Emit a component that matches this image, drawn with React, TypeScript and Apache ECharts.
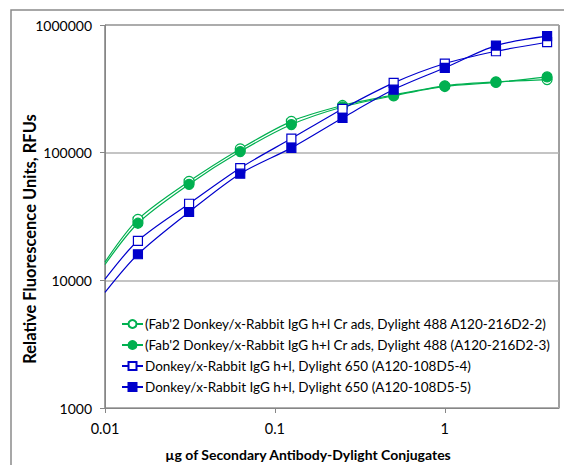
import React, { useEffect, useRef } from "react";
import * as echarts from "echarts";

// µg of conjugate (first value is where the fitted curve starts, no marker)
const xValues = [0.01, 0.015625, 0.03125, 0.0625, 0.125, 0.25, 0.5, 1, 2, 4];
const greenOpen = [13900, 30000, 59600, 107000, 176000, 234000, 283000, 334000, 358000, 374000];
const greenFilled = [13300, 28000, 56500, 102000, 166000, 228000, 279000, 330000, 355000, 392000];
const blueOpen = [10200, 20400, 39800, 75800, 129000, 220000, 352000, 499000, 623000, 733000];
const blueFilled = [8050, 16000, 34300, 68400, 109000, 187000, 312000, 462000, 690000, 818000];

const seriesNames = [
  "(Fab'2 Donkey/x-Rabbit IgG h+l Cr ads, Dylight 488 A120-216D2-2)",
  "(Fab'2 Donkey/x-Rabbit IgG h+l Cr ads, Dylight 488 (A120-216D2-3)",
  "Donkey/x-Rabbit IgG h+l, Dylight 650 (A120-108D5-4)",
  "Donkey/x-Rabbit IgG h+l, Dylight 650 (A120-108D5-5)",
];
const yTitle = "Relative Fluorescence Units, RFUs";
const xTitle = "µg of Secondary Antibody-Dylight Conjugates";

const GREEN = "#00B050";
const BLUE = "#0000CC";
const FONT = "Lato, 'Open Sans', sans-serif";

function toData(vals: number[]) {
  return xValues.map((x, i) =>
    i === 0 ? { value: [x, vals[i]], symbol: "none" } : [x, vals[i]]
  );
}

export default function App() {
  const ref = useRef<HTMLDivElement>(null);
  useEffect(() => {
    document.body.style.margin = "0";
    const chart = echarts.init(ref.current!, null, { renderer: "svg" });
    const mk = (
      name: string,
      vals: number[],
      color: string,
      symbol: string,
      size: number,
      filled: boolean
    ) => ({
      name,
      type: "line",
      data: toData(vals),
      smooth: 0.3,
      symbol,
      symbolSize: size,
      showAllSymbol: true,
      lineStyle: { color, width: 1.2 },
      itemStyle: {
        color: filled ? color : "#ffffff",
        borderColor: color,
        borderWidth: 1.2,
      },
      z: 3,
    });
    chart.setOption({
      animation: false,
      backgroundColor: "#ffffff",
      textStyle: { fontFamily: FONT },
      grid: {
        left: 105,
        right: 5,
        top: 25,
        bottom: 57,
        show: true,
        borderColor: "#404040",
        borderWidth: 1,
      },
      graphic: [
        {
          type: "rect",
          shape: { x: 11, y: 10, width: 600, height: 500 },
          style: { fill: "none", stroke: "#8a8a8a", lineWidth: 1.5 },
          silent: true,
          z: -1,
        },
        {
          type: "text",
          x: 30,
          y: 239,
          rotation: Math.PI / 2,
          style: {
            text: yTitle,
            fontFamily: FONT,
            fontWeight: "bold",
            fontSize: 16.5,
            fill: "#000",
            align: "center",
            verticalAlign: "middle",
          },
        },
        {
          type: "text",
          x: 308,
          y: 454,
          style: {
            text: xTitle,
            fontFamily: FONT,
            fontWeight: "bold",
            fontSize: 14,
            fill: "#000",
            align: "center",
            verticalAlign: "middle",
          },
        },
      ],
      legend: {
        orient: "vertical",
        left: 116,
        top: 312,
        itemWidth: 21,
        itemHeight: 10,
        itemGap: 7,
        textStyle: { fontFamily: FONT, fontSize: 13.5, color: "#000", padding: [0, 0, 0, -3] },
        data: seriesNames,
      },
      xAxis: {
        type: "log",
        logBase: 10,
        min: 0.01,
        max: 4.7,
        axisLine: { show: true, lineStyle: { color: "#868686" } },
        axisTick: { show: true, length: 5, lineStyle: { color: "#868686" } },
        splitLine: { show: false },
        minorTick: { show: false },
        axisLabel: {
          fontFamily: FONT,
          fontSize: 14.5,
          color: "#000",
          margin: 13,
          showMaxLabel: false,
          formatter: (v: number) => {
            const l = Math.log10(v);
            return Math.abs(l - Math.round(l)) < 1e-6 ? String(v) : "";
          },
        },
      },
      yAxis: {
        type: "log",
        logBase: 10,
        min: 1000,
        max: 1000000,
        axisLine: { show: true, lineStyle: { color: "#868686" } },
        axisTick: { show: true, length: 5, lineStyle: { color: "#868686" } },
        splitLine: { show: true, lineStyle: { color: "#b0b0b0", width: 1.5 } },
        axisLabel: {
          fontFamily: FONT,
          fontSize: 14,
          color: "#000",
          margin: 13,
          formatter: (v: number) => String(Math.round(v)),
        },
      },
      series: [
        mk(seriesNames[0], greenOpen, GREEN, "circle", 10, false),
        mk(seriesNames[1], greenFilled, GREEN, "circle", 10, true),
        mk(seriesNames[2], blueOpen, BLUE, "rect", 9, false),
        mk(seriesNames[3], blueFilled, BLUE, "rect", 9, true),
      ],
    });
    return () => chart.dispose();
  }, []);
  return <div ref={ref} style={{ width: 564, height: 465 }} />;
}
